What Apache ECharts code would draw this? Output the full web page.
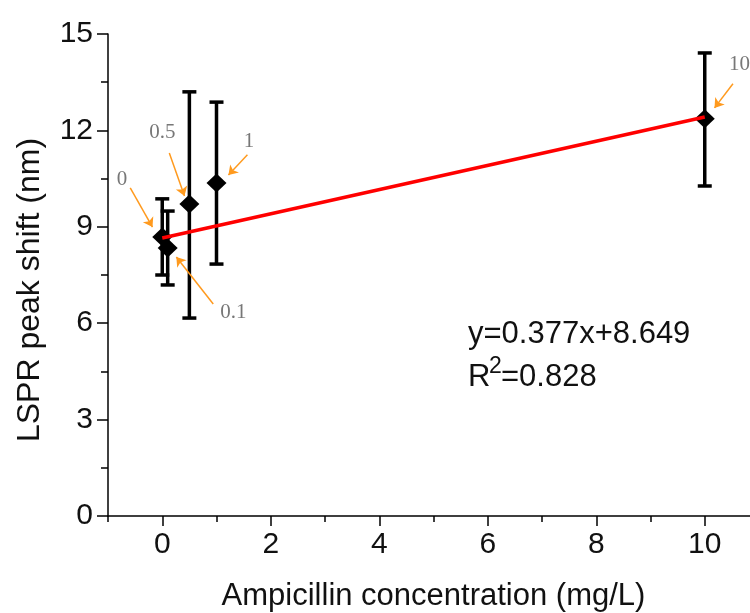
<!DOCTYPE html>
<html><head><meta charset="utf-8">
<script src="https://cdn.jsdelivr.net/npm/echarts@6/dist/echarts.min.js"></script>
<style>html,body{margin:0;padding:0;background:#fff}#c{width:750px;height:613px}</style>
</head><body><div id="c"></div>
<script>
// ---- data ----
const concentrations = [0, 0.1, 0.5, 1, 10];
const peakShift      = [8.68, 8.34, 9.71, 10.36, 12.36];
const errLow         = [7.50, 7.19, 6.16, 7.84, 10.27];
const errHigh        = [9.87, 9.49, 13.20, 12.88, 14.41];
const fitX = [0, 10];
const fitY = [8.649, 12.419];
const xMajorTicks = [0, 2, 4, 6, 8, 10];
const xMinorTicks = [-1, 1, 3, 5, 7, 9];
const pointLabels = ['0', '0.1', '0.5', '1', '10'];
const labelPos  = [[-0.74, 10.46], [1.31, 6.32], [0.00, 11.92], [1.60, 11.64], [10.64, 14.04]];
const arrowFrom = [[-0.59, 10.21], [0.94, 6.60], [0.13, 11.30], [1.57, 11.24], [10.52, 13.45]];
const arrowTo   = [[-0.18, 8.99], [0.26, 8.06], [0.41, 9.96], [1.22, 10.61], [10.18, 12.70]];
const equationText = 'y=0.377x+8.649';
const r2Value = '=0.828';

const SANS = '"Liberation Sans", Arial, sans-serif';
const SERIF = '"Liberation Serif", "Times New Roman", serif';

const chart = echarts.init(document.getElementById('c'), null, {renderer: 'canvas'});

const points = concentrations.map((x, i) => [x, peakShift[i]]);
const bars = concentrations.map((x, i) => [x, errLow[i], errHigh[i]]);
const fit = fitX.map((x, i) => [x, fitY[i]]);
const labels = labelPos.map((p, i) => ({value: p, name: pointLabels[i]}));
const arrows = arrowFrom.map((p, i) => [{coord: p}, {coord: arrowTo[i]}]);

const lineSt = {color: '#000', width: 1.5};

chart.setOption({
  animation: false,
  backgroundColor: '#fff',
  grid: {left: 108, top: 34, bottom: 97, right: -9, containLabel: false, outerBoundsMode: 'none'},
  xAxis: [{
    type: 'value', min: -1, max: 11, position: 'bottom',
    axisLine: {show: true, onZero: false, lineStyle: lineSt},
    splitLine: {show: false},
    axisTick: {show: true, length: 10, lineStyle: lineSt, customValues: xMajorTicks},
    axisLabel: {show: true, customValues: xMajorTicks, fontSize: 30, fontFamily: SANS, color: '#111', margin: 14},
    name: 'Ampicillin concentration (mg/L)', nameLocation: 'middle', nameGap: 65,
    nameTextStyle: {fontSize: 31, fontFamily: SANS, color: '#111'}
  }, {
    type: 'value', min: -1, max: 11, position: 'bottom',
    axisLine: {show: false, onZero: false}, splitLine: {show: false},
    axisTick: {show: true, length: 6, lineStyle: lineSt, customValues: xMinorTicks},
    axisLabel: {show: false}
  }],
  yAxis: {
    type: 'value', min: 0, max: 15, interval: 3,
    axisLine: {show: true, onZero: false, lineStyle: lineSt},
    splitLine: {show: false},
    axisTick: {show: true, length: 11, lineStyle: lineSt},
    minorTick: {show: true, splitNumber: 2, length: 7, lineStyle: lineSt},
    axisLabel: {fontSize: 30, fontFamily: SANS, color: '#111', margin: 15},
    name: 'LSPR peak shift (nm)', nameLocation: 'middle', nameGap: 62,
    nameTextStyle: {fontSize: 32, fontFamily: SANS, color: '#111', padding: [0, 30, 0, 0]}
  },
  series: [{
    type: 'custom', name: 'error', xAxisIndex: 0, z: 2,
    data: bars,
    renderItem: function (params, api) {
      const x = api.value(0), lo = api.value(1), hi = api.value(2);
      const t = api.coord([x, hi]), b = api.coord([x, lo]);
      const w = 7;
      const st = {stroke: '#000', lineWidth: 3.5};
      return {type: 'group', children: [
        {type: 'line', shape: {x1: t[0], y1: t[1], x2: b[0], y2: b[1]}, style: st},
        {type: 'line', shape: {x1: t[0] - w, y1: t[1], x2: t[0] + w, y2: t[1]}, style: st},
        {type: 'line', shape: {x1: b[0] - w, y1: b[1], x2: b[0] + w, y2: b[1]}, style: st}
      ]};
    }
  }, {
    type: 'scatter', name: 'shift', xAxisIndex: 0, z: 3,
    data: points, symbol: 'diamond', symbolSize: [20, 19],
    itemStyle: {color: '#000', opacity: 1}
  }, {
    type: 'line', name: 'fit', xAxisIndex: 0, z: 4,
    data: fit, symbol: 'none',
    lineStyle: {color: '#ff0000', width: 3.5}
  }, {
    type: 'scatter', name: 'labels', xAxisIndex: 0, z: 5,
    data: labels, symbolSize: 0, silent: true,
    label: {show: true, position: 'inside', formatter: p => p.name,
            fontFamily: SERIF, fontSize: 21, color: '#555'},
    markLine: {
      silent: true, animation: false,
      symbol: ['none', 'arrow'], symbolSize: 9,
      label: {show: false},
      lineStyle: {color: '#ff9a1e', width: 1.5, type: 'solid'},
      emphasis: {disabled: true},
      data: arrows
    }
  }],
  graphic: [
    {type: 'text', left: 468, top: 319, style: {text: equationText, font: '31px ' + SANS, fill: '#111'}},
    {type: 'text', left: 468, top: 362, style: {text: 'R', font: '31px ' + SANS, fill: '#111'}},
    {type: 'text', left: 489, top: 355, style: {text: '2', font: '23px ' + SANS, fill: '#111'}},
    {type: 'text', left: 501, top: 362, style: {text: r2Value, font: '31px ' + SANS, fill: '#111'}}
  ]
});
</script>
</body></html>
